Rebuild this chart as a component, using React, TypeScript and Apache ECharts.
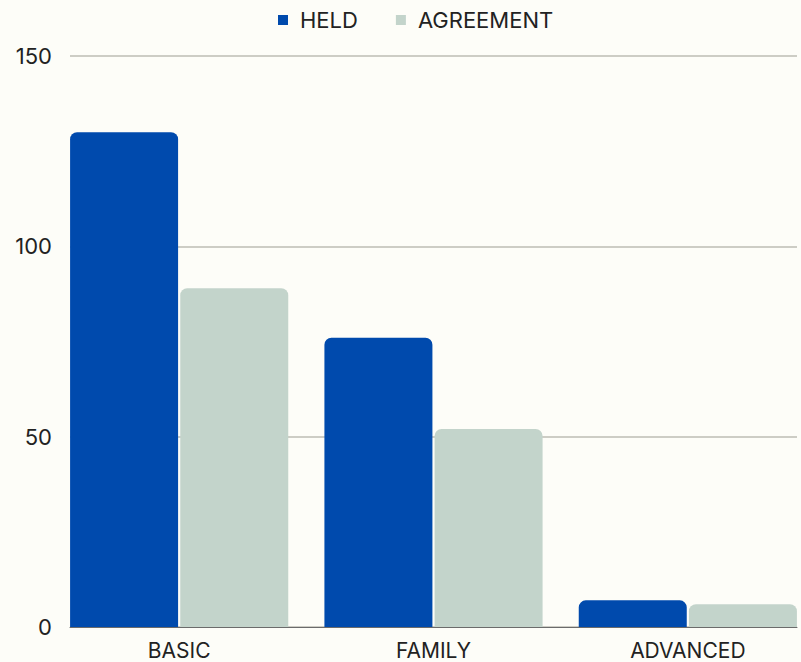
import React, { useEffect, useRef } from "react";
import * as echarts from "echarts";

const categories = ["BASIC", "FAMILY", "ADVANCED"];
const heldValues = [130, 76, 7];
const agreementValues = [89, 52, 6];
const seriesNames = ["HELD", "AGREEMENT"];
const yTicks = [0, 50, 100, 150];

const FONT = "Inter";

export default function App() {
  const ref = useRef<HTMLDivElement>(null);
  useEffect(() => {
    if (!ref.current) return;
    const chart = echarts.init(ref.current, undefined, { renderer: "svg" });
    const yMax = yTicks[yTicks.length - 1];
    chart.setOption({
      animation: false,
      backgroundColor: "#fdfdf8",
      textStyle: { fontFamily: FONT },
      legend: {
        top: 4,
        left: 273,
        itemWidth: 10,
        itemHeight: 10,
        itemGap: 38,
        icon: "rect",
        data: seriesNames,
        textStyle: { fontFamily: FONT, fontSize: 22, color: "#222", padding: [0, 0, 0, 7] },
      },
      grid: [
        { left: 70, right: 22, top: 56, bottom: 35 },
        { left: 52, right: 4, top: 56, bottom: 35 },
      ],
      xAxis: [
        {
          type: "category",
          gridIndex: 0,
          data: categories,
          axisLine: { show: true, lineStyle: { color: "#6b6b6b", width: 1 } },
          axisTick: { show: false },
          axisLabel: { show: false },
        },
        {
          type: "category",
          gridIndex: 1,
          data: categories,
          axisLine: { show: false },
          axisTick: { show: false },
          axisLabel: { fontFamily: FONT, fontSize: 21, lineHeight: 18, color: "#222", margin: 14 },
        },
      ],
      yAxis: [
        {
          type: "value",
          gridIndex: 0,
          min: 0,
          max: yMax,
          interval: 50,
          axisLine: { show: false },
          axisTick: { show: false },
          axisLabel: { fontFamily: FONT, fontSize: 22, color: "#222", margin: 18 },
          splitLine: { show: true, lineStyle: { color: "#bdbdb5", width: 1.5 } },
        },
        {
          type: "value",
          gridIndex: 1,
          min: 0,
          max: yMax,
          interval: 50,
          show: false,
          splitLine: { show: false },
        },
      ],
      series: [
        {
          name: seriesNames[0],
          type: "bar",
          xAxisIndex: 1,
          yAxisIndex: 1,
          data: heldValues,
          barWidth: 108,
          barGap: "2%",
          itemStyle: { color: "#004aad", borderRadius: [7, 7, 0, 0] },
        },
        {
          name: seriesNames[1],
          type: "bar",
          xAxisIndex: 1,
          yAxisIndex: 1,
          data: agreementValues,
          barWidth: 108,
          barGap: "2%",
          itemStyle: { color: "#c3d4cb", borderRadius: [7, 7, 0, 0] },
        },
      ],
    });
    return () => chart.dispose();
  }, []);
  return (
    <div style={{ position: "fixed", left: 0, top: 0, width: 801, height: 662, overflow: "hidden" }}>
      <div ref={ref} style={{ position: "absolute", left: 0, top: 0, width: 819, height: 662 }} />
    </div>
  );
}
